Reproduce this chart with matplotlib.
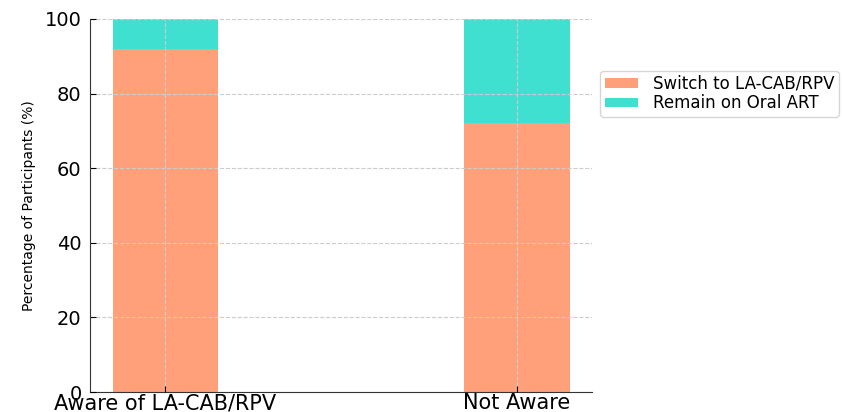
import numpy as np
import matplotlib.pyplot as plt

# share of participants by awareness group
groups = ['Aware of LA-CAB/RPV', 'Not Aware']
switch = [92, 72]
remain = [8, 28]
series_labels = ['Switch to LA-CAB/RPV', 'Remain on Oral ART']

fig = plt.figure(figsize=(8.43, 4.12), dpi=100)
ax = fig.add_axes([0.1068, 0.0485, 0.5955, 0.9055])

x = np.arange(len(groups))
ax.bar(x, switch, width=0.3, color='#FFA07A', label=series_labels[0])
ax.bar(x, remain, width=0.3, bottom=switch, color='#40E0D0', label=series_labels[1])

ax.set_xlim(-0.214, 1.214)
ax.set_ylim(0, 100)
ax.set_xticks(x)
ax.set_xticklabels(groups, fontsize=15)
ax.set_yticks(np.arange(0, 101, 20))
ax.tick_params(axis='y', labelsize=14, direction='in', length=4, pad=6)
ax.tick_params(axis='x', direction='in', length=4, pad=1)
ax.set_ylabel('Percentage of Participants (%)', fontsize=10, labelpad=6)

for side in ['top', 'right']:
    ax.spines[side].set_visible(False)
ax.spines['left'].set_color('#333333')
ax.spines['bottom'].set_color('#333333')

ax.grid(True, linestyle='--', color='#cccccc', linewidth=0.8)
ax.set_axisbelow(False)

ax.legend(loc='center left', bbox_to_anchor=(1.0, 0.8), fontsize=12,
          handlelength=2.0, handleheight=0.5, handletextpad=0.9,
          borderpad=0.25, labelspacing=0.1)

fig.savefig('out.png', dpi=100)
